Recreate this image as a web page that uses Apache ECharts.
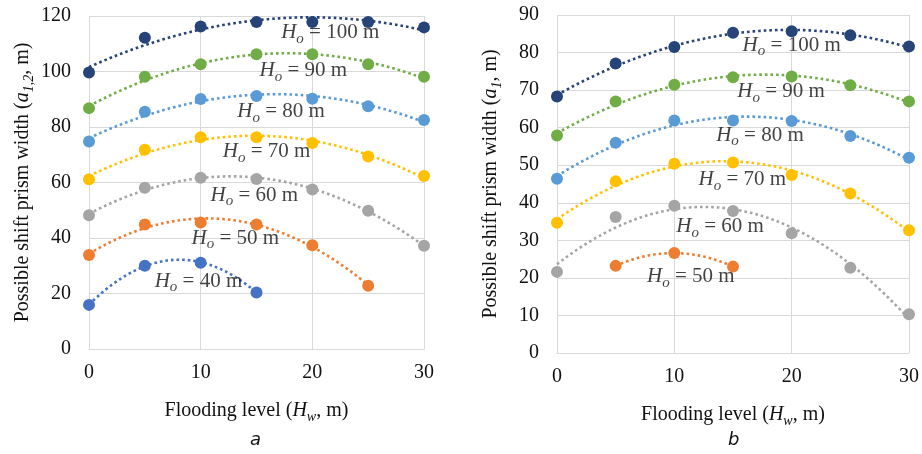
<!DOCTYPE html>
<html><head><meta charset="utf-8">
<script src="https://cdn.jsdelivr.net/npm/echarts@6/dist/echarts.min.js"></script>
<style>html,body{margin:0;padding:0;background:#fff}#c{width:922px;height:454px}</style>
</head><body><div id="c"></div>
<script>
// ---- data ----
const xValues = [0, 5, 10, 15, 20, 25, 30];
const xTicks = [0, 10, 20, 30];
const seriesNames = ['100', '90', '80', '70', '60', '50', '40'];

// Panel a: a_{1,2}
const a_H100 = [99.6, 112.2, 116.2, 117.8, 117.8, 117.8, 115.9];
const a_H90  = [86.8, 98.1, 102.6, 106.2, 106.2, 102.6, 98.1];
const a_H80  = [74.8, 85.5, 90.1, 91.2, 90.2, 87.5, 82.5];
const a_H70  = [61.2, 71.8, 76.3, 76.3, 74.2, 69.4, 62.3];
const a_H60  = [48.2, 58.1, 61.7, 61.3, 57.5, 49.8, 37.2];
const a_H50  = [33.9, 44.9, 45.6, 44.9, 37.4, 22.8, null];
const a_H40  = [15.9, 30.0, 31.1, 20.4, null, null, null];

// Panel b: a_1
const b_H100 = [68.3, 77.1, 81.5, 85.3, 85.7, 84.6, 81.6];
const b_H90  = [57.9, 67.0, 71.4, 73.4, 73.6, 71.3, 67.0];
const b_H80  = [46.4, 56.0, 61.9, 61.9, 61.8, 57.8, 52.0];
const b_H70  = [34.7, 45.7, 50.4, 50.7, 47.4, 42.5, 32.7];
const b_H60  = [21.6, 36.2, 39.2, 37.8, 31.9, 22.7, 10.3];
const b_H50  = [null, 23.2, 26.6, 23.0, null, null, null];

// label anchors (data units) for the "Ho = ..." annotations
const a_labelX = [21.6, 19.2, 17.2, 15.9, 14.8, 13.1, 9.8];
const a_labelY = [113.9, 100.2, 85.5, 71.1, 55.5, 39.9, 24.5];
const b_labelX = [20.0, 19.1, 17.3, 15.8, 13.9, 11.4];
const b_labelY = [82.0, 69.6, 58.0, 46.1, 33.6, 20.3];

// ---- styles ----
const colors = ['#264478', '#70AD47', '#5B9BD5', '#FFC000', '#A5A5A5', '#ED7D31', '#4472C4'];
const serif = '"Liberation Serif", "Times New Roman", serif';
const txt = '#111';

function quadFit(xs, ys) {
  let n = xs.length, s = [0,0,0,0,0], t = [0,0,0];
  for (let i = 0; i < n; i++) {
    const x = xs[i], y = ys[i];
    let p = 1;
    for (let k = 0; k < 5; k++) { s[k] += p; p *= x; }
    t[0] += y; t[1] += y * x; t[2] += y * x * x;
  }
  const M = [[s[0], s[1], s[2], t[0]], [s[1], s[2], s[3], t[1]], [s[2], s[3], s[4], t[2]]];
  for (let i = 0; i < 3; i++) {
    for (let j = i + 1; j < 3; j++) {
      const f = M[j][i] / M[i][i];
      for (let k = i; k < 4; k++) M[j][k] -= f * M[i][k];
    }
  }
  const c = [0, 0, 0];
  for (let i = 2; i >= 0; i--) {
    let v = M[i][3];
    for (let k = i + 1; k < 3; k++) v -= M[i][k] * c[k];
    c[i] = v / M[i][i];
  }
  return c;
}

const richLabel = {
  i: { fontFamily: serif, fontStyle: 'italic', fontSize: 21, color: txt, lineHeight: 27 },
  s: { fontFamily: serif, fontStyle: 'italic', fontSize: 15, color: txt, lineHeight: 14, verticalAlign: 'bottom' },
  n: { fontFamily: serif, fontSize: 21, color: txt, lineHeight: 27 }
};

function buildPanel(panelSeries, lx, ly, gridIndex) {
  const out = [];
  panelSeries.forEach((vals, si) => {
    const pts = [];
    const xs = [], ys = [];
    vals.forEach((v, i) => { if (v !== null) { pts.push([xValues[i], v]); xs.push(xValues[i]); ys.push(v); } });
    const c = quadFit(xs, ys);
    const xmin = Math.min(...xs), xmax = Math.max(...xs);
    const fit = [];
    for (let x = xmin; x <= xmax + 1e-9; x += 0.25) fit.push([x, c[0] + c[1] * x + c[2] * x * x]);
    out.push({
      type: 'line', xAxisIndex: gridIndex, yAxisIndex: gridIndex, data: fit, showSymbol: false, silent: true,
      lineStyle: { color: colors[si], width: 2.6, type: [2.6, 3.0], cap: 'butt' }, z: 2
    });
    out.push({
      type: 'scatter', name: 'Ho = ' + seriesNames[si] + ' m', xAxisIndex: gridIndex, yAxisIndex: gridIndex,
      data: pts, symbolSize: 12, itemStyle: { color: colors[si], opacity: 1 }, z: 3
    });
    out.push({
      type: 'scatter', xAxisIndex: gridIndex, yAxisIndex: gridIndex, silent: true,
      data: [[lx[si], ly[si]]], symbolSize: 1, itemStyle: { color: 'rgba(0,0,0,0)' }, z: 4,
      label: {
        show: true, position: 'inside',
        formatter: '{i|H}{s|o}{n| = ' + seriesNames[si] + ' m}', rich: richLabel
      }
    });
  });
  return out;
}

const series = [].concat(
  buildPanel([a_H100, a_H90, a_H80, a_H70, a_H60, a_H50, a_H40], a_labelX, a_labelY, 0),
  buildPanel([b_H100, b_H90, b_H80, b_H70, b_H60, b_H50], b_labelX, b_labelY, 1)
);

const gridLine = { lineStyle: { color: '#d9d9d9', width: 1 } };
const nameRich = {
  n: { fontFamily: serif, fontSize: 20, color: txt, lineHeight: 26 },
  i: { fontFamily: serif, fontSize: 20, fontStyle: 'italic', color: txt, lineHeight: 26 },
  s: { fontFamily: serif, fontSize: 14, fontStyle: 'italic', color: txt, lineHeight: 14, verticalAlign: 'bottom' }
};
function xAxis(gi) {
  return {
    type: 'value', gridIndex: gi, min: 0, max: 30, interval: 10,
    axisLine: { show: true, lineStyle: { color: '#d9d9d9' } }, axisTick: { show: false },
    splitLine: { show: true, ...gridLine },
    axisLabel: { fontFamily: serif, fontSize: 20, color: txt, margin: 14 },
    name: '{n|Flooding level (}{i|H}{s|w}{n|, m)}', nameLocation: 'middle', nameGap: 49,
    nameTextStyle: { rich: nameRich }
  };
}
function yAxis(gi, max, interval, sub) {
  return {
    type: 'value', gridIndex: gi, min: 0, max: max, interval: interval,
    axisLine: { show: false }, axisTick: { show: false },
    splitLine: { show: true, ...gridLine },
    axisLabel: { fontFamily: serif, fontSize: 20, color: txt, margin: 18 },
    name: '{n|Possible shift prism width (}{i|a}{s|' + sub + '}{n|, m)}', nameLocation: 'middle', nameGap: 53, nameRotate: 90,
    nameTextStyle: { rich: nameRich }
  };
}

const chart = echarts.init(document.getElementById('c'), null, { renderer: 'canvas' });
chart.setOption({
  animation: false,
  backgroundColor: '#fff',
  grid: [
    { left: 89, top: 16, width: 335, height: 333 },
    { left: 557, top: 15, width: 353, height: 338 }
  ],
  xAxis: [xAxis(0), xAxis(1)],
  yAxis: [yAxis(0, 120, 20, '1,2'), yAxis(1, 90, 10, '1')],
  series: series,
  graphic: [
    { type: 'text', left: 250, top: 431, style: { text: 'a', font: 'italic 18px "DejaVu Sans", sans-serif', fill: txt } },
    { type: 'text', left: 728, top: 431, style: { text: 'b', font: 'italic 18px "DejaVu Sans", sans-serif', fill: txt } }
  ]
});
</script>
</body></html>
